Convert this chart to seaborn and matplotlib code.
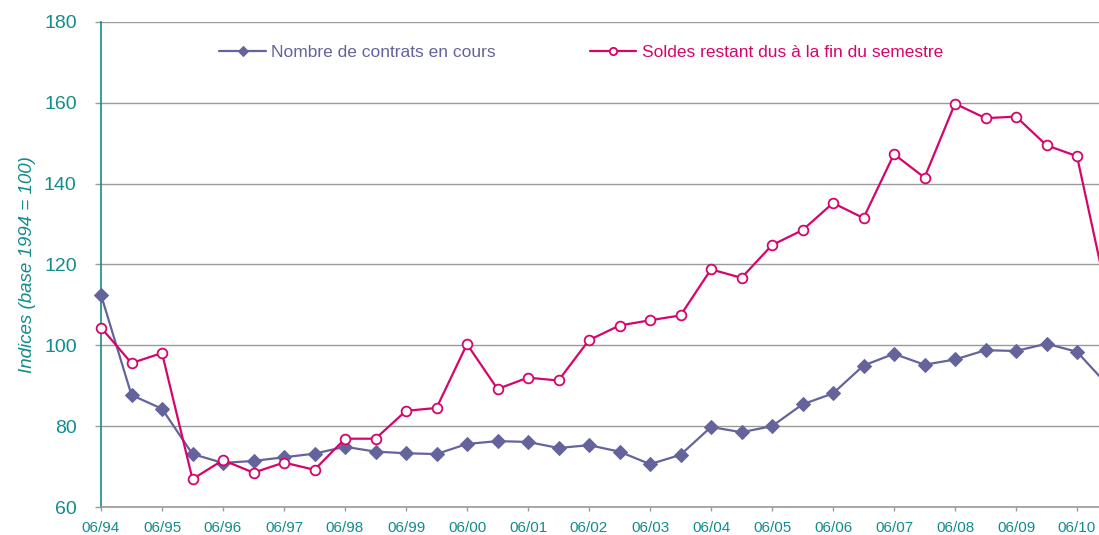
import matplotlib
matplotlib.use("Agg")
import matplotlib.pyplot as plt
import seaborn as sns
import pandas as pd
import numpy as np

semesters = ["06/94", "12/94", "06/95", "12/95", "06/96", "12/96", "06/97", "12/97",
             "06/98", "12/98", "06/99", "12/99", "06/00", "12/00", "06/01", "12/01",
             "06/02", "12/02", "06/03", "12/03", "06/04", "12/04", "06/05", "12/05",
             "06/06", "12/06", "06/07", "12/07", "06/08", "12/08", "06/09", "12/09",
             "06/10", "12/10"]
contrats = [112.5, 87.7, 84.3, 73.1, 70.9, 71.4, 72.3, 73.2, 74.9, 73.7, 73.3, 73.1,
            75.6, 76.3, 76.1, 74.6, 75.3, 73.7, 70.6, 72.9, 79.8, 78.5, 80.0, 85.4,
            88.1, 95.0, 97.9, 95.2, 96.5, 98.8, 98.6, 100.4, 98.4, 90.2]
soldes = [104.4, 95.6, 98.1, 66.9, 71.6, 68.5, 71.0, 69.2, 76.9, 76.9, 83.8, 84.5,
          100.3, 89.2, 92.0, 91.3, 101.3, 104.9, 106.2, 107.4, 118.8, 116.7, 124.8, 128.5,
          135.2, 131.5, 147.3, 141.5, 159.8, 156.2, 156.6, 149.5, 146.8, 112.0]
label_contrats = "Nombre de contrats en cours"
label_soldes = "Soldes restant dus à la fin du semestre"
yticks = [60, 80, 100, 120, 140, 160, 180]

BLUE = "#65639C"
RED = "#D4066B"
TEAL = "#138C8C"
GRID = "#9A9A9A"

sns.set_theme(style="white")
plt.rcParams["font.family"] = ["Liberation Sans", "DejaVu Sans"]

df = pd.DataFrame({"i": np.arange(len(semesters)), "contrats": contrats, "soldes": soldes})

fig = plt.figure(figsize=(10.99, 5.35), dpi=100)
W, H = 1099, 535
left_px, right_px, top_px, bot_px = 101, 1099, 22, 507
ax = fig.add_axes([left_px / W, (H - bot_px) / H, (right_px - left_px) / W, (bot_px - top_px) / H])

sns.lineplot(data=df, x="i", y="contrats", ax=ax, color=BLUE, marker="D", markersize=7.2,
             markeredgecolor=BLUE, markerfacecolor=BLUE, linewidth=1.6, label=label_contrats,
             clip_on=False, zorder=3)
sns.lineplot(data=df, x="i", y="soldes", ax=ax, color=RED, marker="o", markersize=7,
             markeredgecolor=RED, markerfacecolor="white", markeredgewidth=1.3, linewidth=1.6,
             label=label_soldes, clip_on=False, zorder=4)

step = 30.5
ax.set_xlim(0, (right_px - left_px) / step)
ax.set_ylim(60, 180)
ax.set_yticks(yticks)
ax.set_yticklabels([str(v) for v in yticks], color=TEAL, fontsize=14)
xt = list(range(0, 33, 2))
ax.set_xticks(xt)
ax.set_xticklabels([semesters[k] for k in xt], color=TEAL, fontsize=11)
ax.tick_params(axis="x", direction="out", length=3, width=1, color=GRID, pad=7, bottom=True)
ax.tick_params(axis="y", direction="out", length=4, width=1, color=GRID, pad=13.5, left=True)
ax.set_xlabel("")
ax.set_ylabel("Indices (base 1994 = 100)", color=TEAL, fontsize=13.5, style="italic", labelpad=6)

ax.yaxis.grid(True, color=GRID, linewidth=1)
ax.xaxis.grid(False)
ax.set_axisbelow(True)
for s in ["top", "right"]:
    ax.spines[s].set_visible(False)
ax.spines["left"].set_color(TEAL)
ax.spines["left"].set_linewidth(1.2)
ax.spines["bottom"].set_color(GRID)
ax.spines["bottom"].set_linewidth(1.2)

leg = ax.legend(loc="center", bbox_to_anchor=(0.481, 0.938), ncol=2, frameon=False,
                fontsize=12.5, handlelength=2.7, handletextpad=0.3, columnspacing=5.4,
                markerscale=0.75, labelcolor="linecolor")

fig.savefig("out.png", dpi=100)
